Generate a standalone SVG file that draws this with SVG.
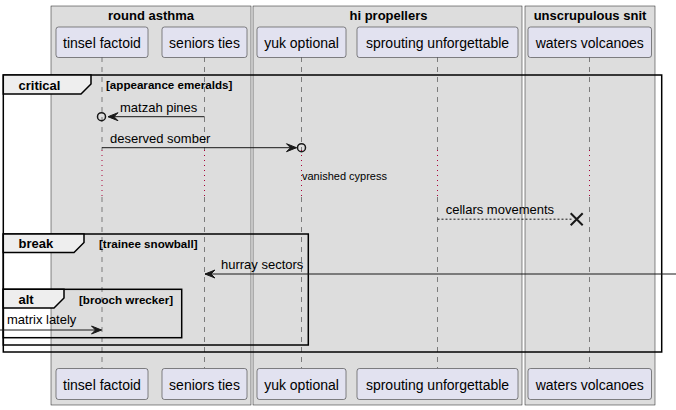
<svg xmlns="http://www.w3.org/2000/svg" width="676" height="410" viewBox="0 0 676 410">
<style>
.box{fill:#DDDDDD;stroke:#181818;stroke-width:0.5}
.btitle{font-family:"Liberation Sans",Arial,sans-serif;font-size:13px;font-weight:bold;fill:#000;text-anchor:middle}
.part{fill:#E2E2F0;stroke:#181818;stroke-width:0.5}
.ptext{font-family:"Liberation Sans",Arial,sans-serif;font-size:14px;fill:#000;text-anchor:middle}
.life{stroke:#181818;stroke-width:0.5;stroke-dasharray:5,5;fill:none}
.delay{stroke:#A80036;stroke-width:1;stroke-dasharray:1,4;fill:none}
.frame{fill:none;stroke:#000;stroke-width:1.5}
.tab{fill:#EEEEEE;stroke:#000;stroke-width:1.5}
.flabel{font-family:"Liberation Sans",Arial,sans-serif;font-size:13px;font-weight:bold;fill:#000}
.fcond{font-family:"Liberation Sans",Arial,sans-serif;font-size:11.6px;font-weight:bold;fill:#000}
.msg{stroke:#181818;stroke-width:1;fill:none}
.dmsg{stroke:#181818;stroke-width:1;fill:none;stroke-dasharray:2,2}
.head{fill:#181818;stroke:#181818;stroke-width:1}
.circ{fill:none;stroke:#181818;stroke-width:1.5}
.mtext{font-family:"Liberation Sans",Arial,sans-serif;font-size:13px;fill:#000}
.dtext{font-family:"Liberation Sans",Arial,sans-serif;font-size:11px;fill:#000}
</style>
<g id="box-round-asthma">
<rect class="box" x="51" y="6" width="200" height="399"/>
<text class="btitle" x="151" y="20">round asthma</text>
</g>
<g id="box-hi-propellers">
<rect class="box" x="253" y="6" width="269" height="399"/>
<text class="btitle" x="388.5" y="20">hi propellers</text>
</g>
<g id="box-unscrupulous-snit">
<rect class="box" x="525" y="6" width="130" height="399"/>
<text class="btitle" x="590" y="20">unscrupulous snit</text>
</g>
<g id="lifelines">
<path class="life" d="M102,57V150M102,197V368"/>
<path class="delay" d="M102,150V197"/>
<path class="life" d="M204.5,57V150M204.5,197V368"/>
<path class="delay" d="M204.5,150V197"/>
<path class="life" d="M301.5,57V150M301.5,197V368"/>
<path class="delay" d="M301.5,150V197"/>
<path class="life" d="M437.5,57V150M437.5,197V368"/>
<path class="delay" d="M437.5,150V197"/>
<path class="life" d="M589.5,57V150M589.5,197V368"/>
<path class="delay" d="M589.5,150V197"/>
</g>
<g id="tinsel-factoid">
<rect class="part" x="56" y="27" width="92" height="30.5" rx="2.5"/>
<text class="ptext" x="102" y="48">tinsel factoid</text>
<rect class="part" x="56" y="368.5" width="92" height="31" rx="2.5"/>
<text class="ptext" x="102" y="389.5">tinsel factoid</text>
</g>
<g id="seniors-ties">
<rect class="part" x="162" y="27" width="85" height="30.5" rx="2.5"/>
<text class="ptext" x="204.5" y="48">seniors ties</text>
<rect class="part" x="162" y="368.5" width="85" height="31" rx="2.5"/>
<text class="ptext" x="204.5" y="389.5">seniors ties</text>
</g>
<g id="yuk-optional">
<rect class="part" x="257" y="27" width="89" height="30.5" rx="2.5"/>
<text class="ptext" x="301.5" y="48">yuk optional</text>
<rect class="part" x="257" y="368.5" width="89" height="31" rx="2.5"/>
<text class="ptext" x="301.5" y="389.5">yuk optional</text>
</g>
<g id="sprouting-unforgettable">
<rect class="part" x="357" y="27" width="161" height="30.5" rx="2.5"/>
<text class="ptext" x="437.5" y="48">sprouting unforgettable</text>
<rect class="part" x="357" y="368.5" width="161" height="31" rx="2.5"/>
<text class="ptext" x="437.5" y="389.5">sprouting unforgettable</text>
</g>
<g id="waters-volcanoes">
<rect class="part" x="528" y="27" width="123.5" height="30.5" rx="2.5"/>
<text class="ptext" x="589.75" y="48">waters volcanoes</text>
<rect class="part" x="528" y="368.5" width="123.5" height="31" rx="2.5"/>
<text class="ptext" x="589.75" y="389.5">waters volcanoes</text>
</g>
<g id="frames">
<rect class="frame" x="3.3" y="75" width="658.4" height="277"/>
<polygon class="tab" points="3.3,75 91,75 91,84 81,94 3.3,94"/>
<text class="flabel" x="18.5" y="90">critical</text>
<text class="fcond" x="106" y="89">[appearance emeralds]</text>
<rect class="frame" x="3.3" y="234" width="305" height="111"/>
<polygon class="tab" points="3.3,234 84,234 84,242.5 74,252.5 3.3,252.5"/>
<text class="flabel" x="18.5" y="248">break</text>
<text class="fcond" x="99" y="247.5">[trainee snowball]</text>
<rect class="frame" x="3.3" y="289.3" width="178.4" height="48.4"/>
<polygon class="tab" points="3.3,289.3 64,289.3 64,298 54,308 3.3,308"/>
<text class="flabel" x="18.5" y="304">alt</text>
<text class="fcond" x="79" y="303.5">[brooch wrecker]</text>
</g>
<g id="connectors">
<line class="msg" x1="204.5" y1="116.7" x2="108" y2="116.7"/>
<polygon class="head" points="108,116.7 118,112.7 114,116.7 118,120.7"/>
<circle class="circ" cx="101.5" cy="116.7" r="4"/>
<text class="mtext" x="120" y="112">matzah pines</text>
<line class="msg" x1="102" y1="147.7" x2="296.5" y2="147.7"/>
<polygon class="head" points="296.5,147.7 286.5,143.7 290.5,147.7 286.5,151.7"/>
<circle class="circ" cx="301.5" cy="147.7" r="4"/>
<text class="mtext" x="110" y="142.5">deserved somber</text>
<text class="dtext" x="302" y="179.5">vanished cypress</text>
<line class="dmsg" x1="437.5" y1="219.2" x2="572" y2="219.2"/>
<path d="M570.7,213.2L582.7,225.2M570.7,225.2L582.7,213.2" stroke="#181818" stroke-width="2" fill="none"/>
<text class="mtext" x="445.7" y="214">cellars movements</text>
<line class="msg" x1="676" y1="274" x2="205" y2="274"/>
<polygon class="head" points="205,274 215,270 211,274 215,278"/>
<text class="mtext" x="221" y="268.5">hurray sectors</text>
<line class="msg" x1="0" y1="330" x2="101.5" y2="330"/>
<polygon class="head" points="101.5,330 91.5,326 95.5,330 91.5,334"/>
<text class="mtext" x="7" y="324">matrix lately</text>
</g>
</svg>
